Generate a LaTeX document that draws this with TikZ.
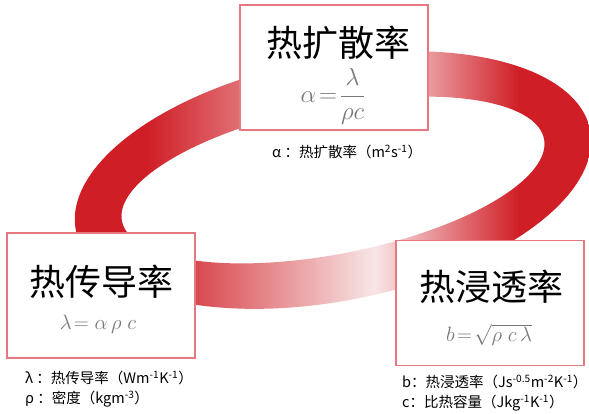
\documentclass[tikz,border=0pt]{standalone}
\usepackage{fontspec}
\setmainfont{Noto Sans CJK SC}
\definecolor{ringred}{RGB}{208,30,38}
\definecolor{ringlight}{RGB}{248,230,230}
\definecolor{boxpink}{RGB}{230,120,130}
\definecolor{formgray}{RGB}{120,120,120}
\pgfdeclarehorizontalshading{ringshade}{100bp}{color(0bp)=(ringred); color(32bp)=(ringred); color(54bp)=(ringlight); color(68bp)=(ringred); color(100bp)=(ringred)}
\begin{document}
\begin{tikzpicture}[x=1pt,y=-1pt,
  card/.style={draw=boxpink, line width=1.5pt, fill=white, minimum width=188pt, minimum height=125pt, inner sep=0pt},
  title/.style={font=\fontsize{36}{40}\selectfont, inner sep=0pt, text height=28pt, text depth=3pt},
  formula/.style={text=formgray, inner sep=0pt, font=\fontsize{21}{24}\selectfont},
  note/.style={font=\fontsize{14.5}{16}\selectfont, inner sep=0pt, anchor=west}]
\useasboundingbox (0,0) rectangle (589,414);
\fill[white] (0,0) rectangle (589,414);
% ring
\path[shading=ringshade, even odd rule]
  plot[domain=0:360, samples=181] ({333+262*cos(\x)*0.9816-121*sin(\x)*0.1908},{180-262*cos(\x)*0.1908-121*sin(\x)*0.9816}) -- cycle
  plot[domain=0:360, samples=181] ({333+215*cos(\x)*0.9816-74*sin(\x)*0.1908},{180-215*cos(\x)*0.1908-74*sin(\x)*0.9816}) -- cycle;
% boxes
\node[card] (diff) at (334,67.5) {};
\node[card] (cond) at (101,295.5) {};
\node[card] (effu) at (490,303) {};
% titles
\node[title] (difft) at (338,44) {热扩散率};
\node[title] (condt) at (101,283) {热传导率};
\node[title] (effut) at (491,288) {热浸透率};
% formulas
\node[formula, font=\fontsize{23}{26}\selectfont] (difff) at (333,96) {$\displaystyle\alpha\!=\!\frac{\lambda}{\rho c}$};
\node[formula] (condf) at (98,324) {$\lambda\!=\alpha\,\rho\;c$};
\node[formula] (effuf) at (489,335) {$b\!=\!\sqrt{\rho\;c\,\lambda}$};
% notes
\node[note] (difn) at (272,152) {α ：热扩散率（m\textsuperscript{2}s\textsuperscript{-1}）};
\node[note] (condn1) at (25,378) {λ ：热传导率（Wm\textsuperscript{-1}K\textsuperscript{-1}）};
\node[note] (condn2) at (25,399) {ρ ：密度（kgm\textsuperscript{-3}）};
\node[note] (effun1) at (402,382) {b：热浸透率（Js\textsuperscript{-0.5}m\textsuperscript{-2}K\textsuperscript{-1}）};
\node[note] (effun2) at (402,403) {c：比热容量（Jkg\textsuperscript{-1}K\textsuperscript{-1}）};
\end{tikzpicture}
\end{document}
